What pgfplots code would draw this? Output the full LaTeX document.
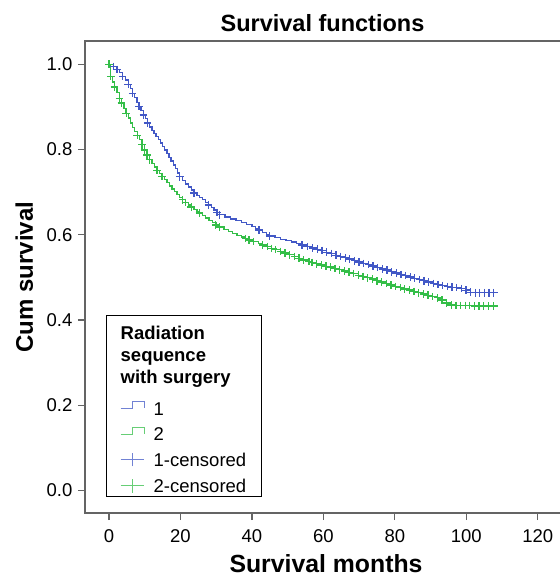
\documentclass[border=0pt]{standalone}
\usepackage{fontspec}
\setmainfont{Liberation Sans}
\usepackage{pgfplots}
\pgfplotsset{compat=1.18}
\usepackage{pgfplotstable}

\definecolor{kmblue}{RGB}{66,88,198}
\definecolor{kmgreen}{RGB}{52,190,72}
\definecolor{axgray}{RGB}{100,100,100}

% group 1: step curve
\pgfplotstableread{
x y
0 1.000
1.2 0.995
2.2 0.988
3.0 0.980
3.8 0.972
4.6 0.963
5.4 0.953
6.0 0.943
6.6 0.932
7.2 0.922
7.8 0.911
8.4 0.901
9.0 0.891
9.6 0.881
10.2 0.872
10.8 0.862
11.4 0.853
12.0 0.845
12.6 0.837
13.2 0.830
13.8 0.823
14.4 0.815
15.0 0.807
15.6 0.799
16.2 0.791
16.8 0.782
17.4 0.773
18.0 0.764
18.6 0.755
19.2 0.745
19.8 0.736
20.6 0.727
21.4 0.719
22.2 0.712
23.0 0.705
23.8 0.698
24.6 0.692
25.4 0.687
26.2 0.682
27.0 0.676
27.8 0.670
28.6 0.664
29.4 0.658
30.2 0.652
31.0 0.647
32.5 0.642
34.0 0.637
35.5 0.633
37.0 0.628
38.5 0.624
40.0 0.619
41.0 0.615
42.0 0.611
43.0 0.606
44.0 0.601
45.0 0.597
46.5 0.593
48.0 0.589
49.5 0.586
51.0 0.583
52.5 0.580
54.0 0.576
55.5 0.572
57.0 0.569
58.3 0.566
59.6 0.563
60.9 0.559
62.2 0.556
63.5 0.552
64.8 0.549
66.1 0.546
67.4 0.543
68.7 0.539
70.0 0.536
71.3 0.533
72.6 0.530
73.9 0.527
75.2 0.523
76.5 0.520
77.8 0.517
79.1 0.513
80.4 0.510
81.7 0.507
83.0 0.504
84.3 0.501
85.6 0.498
86.9 0.495
88.2 0.492
89.5 0.489
90.8 0.486
92.1 0.483
93.4 0.481
94.7 0.479
96.0 0.477
97.3 0.476
98.6 0.474
99.9 0.470
101.2 0.465
102.5 0.464
103.8 0.464
105.1 0.464
106.4 0.464
107.7 0.464
}\curveone

% group 1: censored cases
\pgfplotstableread{
x y
1.2 0.995
2.2 0.988
3.8 0.972
5.4 0.953
6.6 0.932
8.4 0.901
9.6 0.881
10.8 0.862
19.8 0.736
23.8 0.698
27.8 0.670
30.2 0.652
31.0 0.647
42.0 0.611
45.0 0.597
54.0 0.576
55.5 0.572
57.0 0.569
58.3 0.566
59.6 0.563
60.9 0.559
62.2 0.556
63.5 0.552
64.8 0.549
66.1 0.546
67.4 0.543
68.7 0.539
70.0 0.536
71.3 0.533
72.6 0.530
73.9 0.527
75.2 0.523
76.5 0.520
77.8 0.517
79.1 0.513
80.4 0.510
81.7 0.507
83.0 0.504
84.3 0.501
85.6 0.498
86.9 0.495
88.2 0.492
89.5 0.489
90.8 0.486
92.1 0.483
93.4 0.481
94.7 0.479
96.0 0.477
97.3 0.476
98.6 0.474
99.9 0.470
101.2 0.465
102.5 0.464
103.8 0.464
105.1 0.464
106.4 0.464
107.7 0.464
}\censone

% group 2: step curve
\pgfplotstableread{
x y
0 1.000
0.5 0.972
1.0 0.958
1.5 0.947
2.2 0.933
2.9 0.920
3.5 0.909
4.2 0.896
4.8 0.885
5.4 0.874
6.0 0.862
6.6 0.852
7.2 0.843
7.9 0.833
8.5 0.823
9.2 0.811
9.9 0.799
10.6 0.787
11.3 0.776
12.0 0.767
12.7 0.759
13.4 0.751
14.1 0.744
14.8 0.737
15.5 0.729
16.2 0.722
16.9 0.714
17.6 0.707
18.3 0.701
19.0 0.695
19.8 0.688
20.6 0.682
21.4 0.676
22.2 0.670
23.0 0.665
23.8 0.660
24.6 0.655
25.3 0.651
26.2 0.645
27.1 0.639
28.0 0.634
29.0 0.628
29.9 0.623
31.0 0.618
32.2 0.613
33.4 0.608
34.6 0.603
35.8 0.599
37.0 0.595
38.2 0.591
39.2 0.588
40.5 0.584
41.8 0.580
43.0 0.576
44.3 0.572
45.5 0.568
46.7 0.565
48.0 0.561
49.3 0.557
50.6 0.553
51.9 0.549
53.2 0.545
54.5 0.541
56.0 0.537
56.8 0.535
58.1 0.532
59.4 0.529
60.7 0.526
62.0 0.524
63.3 0.521
64.6 0.518
65.9 0.515
67.2 0.512
68.5 0.509
69.8 0.505
71.1 0.502
72.4 0.499
73.7 0.496
75.0 0.492
76.3 0.489
77.6 0.486
78.9 0.482
80.2 0.479
81.5 0.476
82.8 0.473
84.1 0.470
85.4 0.467
86.7 0.464
88.0 0.461
89.3 0.458
90.6 0.455
91.9 0.452
93.2 0.447
94.5 0.440
95.8 0.435
97.1 0.434
98.4 0.434
99.7 0.434
101.0 0.434
102.3 0.433
103.6 0.433
104.9 0.433
106.2 0.433
107.7 0.433
}\curvetwo

% group 2: censored cases
\pgfplotstableread{
x y
0 1.000
0.5 0.972
1.5 0.947
2.9 0.920
3.5 0.909
4.8 0.885
7.9 0.833
9.2 0.811
9.9 0.799
10.6 0.787
11.3 0.776
13.4 0.751
14.8 0.737
20.6 0.682
21.4 0.676
23.0 0.665
25.3 0.651
29.9 0.623
31.0 0.618
38.2 0.591
39.2 0.588
40.5 0.584
43.0 0.576
44.3 0.572
45.5 0.568
46.7 0.565
48.0 0.561
49.3 0.557
50.6 0.553
51.9 0.549
53.2 0.545
54.5 0.541
56.0 0.537
56.8 0.535
58.1 0.532
59.4 0.529
60.7 0.526
62.0 0.524
63.3 0.521
64.6 0.518
65.9 0.515
67.2 0.512
68.5 0.509
69.8 0.505
71.1 0.502
72.4 0.499
73.7 0.496
75.0 0.492
76.3 0.489
77.6 0.486
78.9 0.482
80.2 0.479
81.5 0.476
82.8 0.473
84.1 0.470
85.4 0.467
86.7 0.464
88.0 0.461
89.3 0.458
90.6 0.455
91.9 0.452
93.2 0.447
94.5 0.440
95.8 0.435
97.1 0.434
98.4 0.434
99.7 0.434
101.0 0.434
102.3 0.433
103.6 0.433
104.9 0.433
106.2 0.433
107.7 0.433
}\censtwo

\newcommand{\tickfont}{\fontsize{18.5bp}{22bp}\selectfont}

\begin{document}
\begin{tikzpicture}
\begin{axis}[
    scale only axis,
    width=477bp, height=472bp,
    xmin=-6.72, xmax=126.8,
    ymin=-0.0528, ymax=1.0546,
    xtick={0,20,40,60,80,100,120},
    ytick={0,0.2,0.4,0.6,0.8,1.0},
    /pgf/number format/assume math mode=true,
    yticklabel style={/pgf/number format/fixed, /pgf/number format/fixed zerofill,
        /pgf/number format/precision=1, xshift=-5.5bp},
    xticklabel style={yshift=-9bp},
    tick pos=left,
    tick align=outside,
    major tick length=7bp,
    tick style={draw=axgray, line width=1.3bp},
    axis line style={draw=axgray, line width=1.5bp},
    ticklabel style={font=\tickfont, inner sep=0pt},
    clip=false,
    legend cell align=left,
    legend style={
        at={(0.0734,0.2375)}, anchor=north west,
        draw=none, fill=none, inner sep=0pt, outer sep=0pt,
        font=\tickfont, row sep=11.5bp, column sep=9bp,
        nodes={inner sep=0pt, text height=13.4bp, text depth=0pt},
    },
]
\addplot[const plot, kmblue, line width=1.35bp,
    legend image code/.code={\draw[kmblue!75!white, line width=1.2bp] (0bp,0bp) -- (12bp,0bp) -- (12bp,7bp) -- (23.5bp,7bp) -- (23.5bp,0bp);}]
    table[x=x, y=y] {\curveone};
\addlegendentry{1}
\addplot[const plot, kmgreen, line width=1.35bp,
    legend image code/.code={\draw[kmgreen!75!white, line width=1.2bp] (0bp,0bp) -- (12bp,0bp) -- (12bp,7bp) -- (23.5bp,7bp) -- (23.5bp,0bp);}]
    table[x=x, y=y] {\curvetwo};
\addlegendentry{2}
\addplot[only marks, mark=+, mark size=3.8bp, kmblue, mark options={line width=1.3bp},
    legend image code/.code={\draw[kmblue!75!white, line width=1.2bp] (0bp,0bp) -- (23.5bp,0bp); \draw[kmblue!75!white, line width=1.2bp] (11.75bp,-6.7bp) -- (11.75bp,6.7bp);}]
    table[x=x, y=y] {\censone};
\addlegendentry{1-censored}
\addplot[only marks, mark=+, mark size=3.8bp, kmgreen, mark options={line width=1.3bp},
    legend image code/.code={\draw[kmgreen!75!white, line width=1.2bp] (0bp,0bp) -- (23.5bp,0bp); \draw[kmgreen!75!white, line width=1.2bp] (11.75bp,-6.7bp) -- (11.75bp,6.7bp);}]
    table[x=x, y=y] {\censtwo};
\addlegendentry{2-censored}
\end{axis}
% legend frame and title
\draw[black, line width=0.9bp] (21.5bp,16.3bp) rectangle (176bp,198bp);
\node[anchor=base west, align=left, inner sep=0pt, font=\fontsize{18.5bp}{22bp}\selectfont\bfseries]
    at (35.5bp,129.7bp) {Radiation\\sequence\\with surgery};
% chart title and axis labels
\node[anchor=base, inner sep=0pt, font=\fontsize{23.5bp}{28bp}\selectfont\bfseries]
    at (237.5bp,481.5bp) {Survival functions};
\node[anchor=base, inner sep=0pt, font=\fontsize{24.8bp}{29bp}\selectfont\bfseries]
    at (241bp,-59bp) {Survival months};
\node[anchor=base, rotate=90, inner sep=0pt, font=\fontsize{24bp}{29bp}\selectfont\bfseries]
    at (-52bp,236bp) {Cum survival};
\pgfresetboundingbox
\useasboundingbox (-85bp,-63bp) rectangle (475bp,513bp);
\end{tikzpicture}
\end{document}
